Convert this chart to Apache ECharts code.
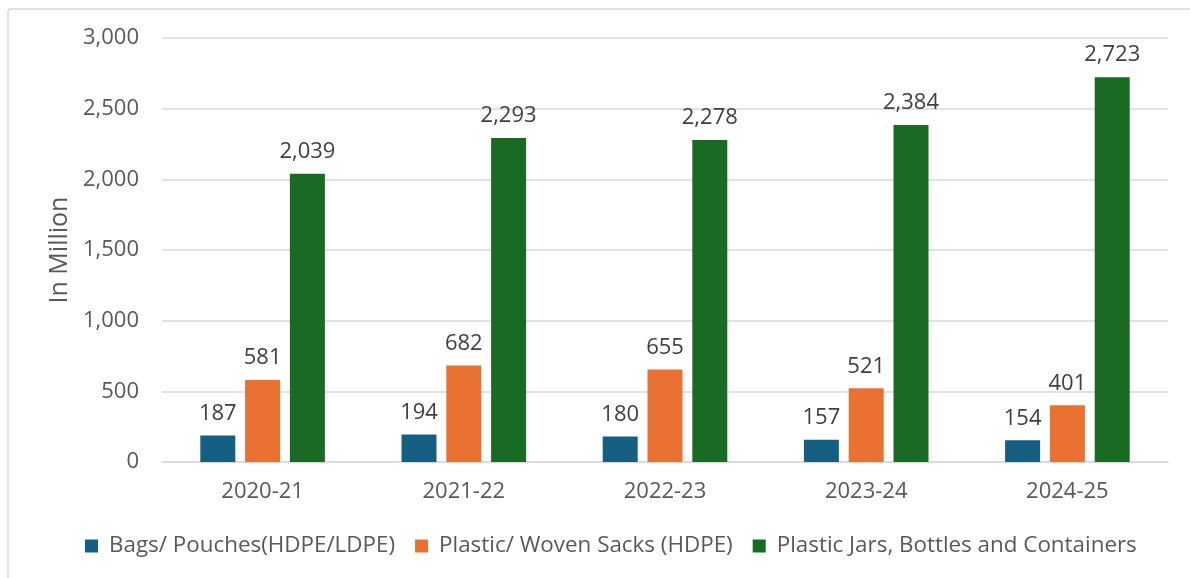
<!DOCTYPE html>
<html>
<head>
<meta charset="utf-8">
<script src="https://cdn.jsdelivr.net/npm/echarts@6/dist/echarts.min.js"></script>
<style>
  html, body { margin: 0; padding: 0; background: #ffffff; }
  #chart { width: 1190px; height: 578px; }
</style>
</head>
<body>
<div id="chart"></div>
<script>
// Plastic packaging volumes by financial year (in million units)
const years = ['2020-21', '2021-22', '2022-23', '2023-24', '2024-25'];
const seriesNames = [
  'Bags/ Pouches(HDPE/LDPE)',
  'Plastic/ Woven Sacks (HDPE)',
  'Plastic Jars, Bottles and Containers'
];
const bagsPouches = [187, 194, 180, 157, 154];
const wovenSacks = [581, 682, 655, 521, 401];
const jarsBottles = [2039, 2293, 2278, 2384, 2723];
const yTicks = [0, 500, 1000, 1500, 2000, 2500, 3000];

const palette = ['#156082', '#E97132', '#196B24'];
const FONT = '"Open Sans", "Liberation Sans", Arial, sans-serif';
const FS = 22;

const chart = echarts.init(document.getElementById('chart'));

function barSeries(name, data, color) {
  return {
    name: name,
    type: 'bar',
    data: data,
    barWidth: 35,
    barGap: '28%',
    itemStyle: { color: color },
    label: {
      show: true,
      position: 'top',
      distance: 11,
      color: '#404040',
      fontFamily: FONT,
      fontSize: FS,
      formatter: p => p.value.toLocaleString('en-US')
    }
  };
}

chart.setOption({
  animation: false,
  backgroundColor: '#ffffff',
  graphic: [{
    type: 'rect',
    shape: { x: 8, y: 9, width: 1200, height: 600, r: 3 },
    style: { fill: 'none', stroke: '#D9D9D9', lineWidth: 1.5 },
    silent: true
  }],
  grid: { left: 162, right: 22, top: 38, bottom: 116, containLabel: false },
  legend: {
    bottom: 16,
    left: 80,
    icon: 'rect',
    itemWidth: 13,
    itemHeight: 13,
    itemGap: 20,
    data: seriesNames,
    textStyle: {
      color: '#595959',
      fontFamily: FONT,
      fontSize: 22.4,
      padding: [0, 0, 0, 6]
    }
  },
  xAxis: {
    type: 'category',
    data: years,
    axisLine: { show: true, lineStyle: { color: '#D9D9D9', width: 1.5 } },
    axisTick: { show: false },
    axisLabel: { color: '#595959', fontFamily: FONT, fontSize: FS, margin: 19 }
  },
  yAxis: {
    type: 'value',
    min: yTicks[0],
    max: yTicks[yTicks.length - 1],
    interval: yTicks[1] - yTicks[0],
    name: 'In Million',
    nameLocation: 'middle',
    nameGap: 90,
    nameTextStyle: { color: '#595959', fontFamily: FONT, fontSize: 25 },
    axisLine: { show: false },
    axisTick: { show: false },
    splitLine: { lineStyle: { color: '#D9D9D9', width: 1.5 } },
    axisLabel: {
      color: '#595959',
      fontFamily: FONT,
      fontSize: FS,
      margin: 23,
      formatter: v => v.toLocaleString('en-US')
    }
  },
  series: [
    barSeries(seriesNames[0], bagsPouches, palette[0]),
    barSeries(seriesNames[1], wovenSacks, palette[1]),
    barSeries(seriesNames[2], jarsBottles, palette[2])
  ]
});
</script>
</body>
</html>
